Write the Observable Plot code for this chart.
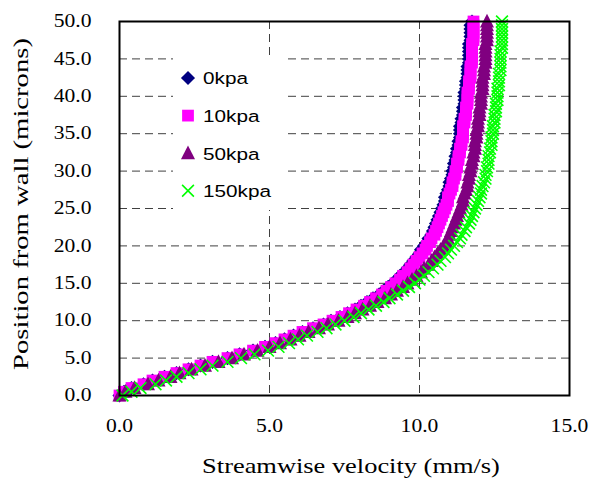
<!DOCTYPE html>
<html>
<head>
<meta charset="utf-8">
<script src="https://cdn.jsdelivr.net/npm/d3@7"></script>
<script src="https://cdn.jsdelivr.net/npm/@observablehq/plot@0.6"></script>
<style>
  html, body { margin: 0; padding: 0; background: #fff; }
  #chart { width: 592px; height: 482px; }
</style>
</head>
<body>
<div id="chart"></div>
<script>
// ---------------- data ----------------
const xTicks = [0, 5, 10, 15];
const yTicks = [0, 5, 10, 15, 20, 25, 30, 35, 40, 45, 50];
const xTitle = "Streamwise velocity (mm/s)";
const yTitle = "Position from wall (microns)";
const seriesNames = ["0kpa", "10kpa", "50kpa", "150kpa"];

// position from wall (microns)
const positionMicrons = [
  0,0.5,1,1.5,2,2.5,3,3.5,4,4.5,
  5,5.5,6,6.5,7,7.5,8,8.5,9,9.5,
  10,10.5,11,11.5,12,12.5,13,13.5,14,14.5,
  15,15.5,16,16.5,17,17.5,18,18.5,19,19.5,
  20,20.5,21,21.5,22,22.5,23,23.5,24,24.5,
  25,25.5,26,26.5,27,27.5,28,28.5,29,29.5,
  30,30.5,31,31.5,32,32.5,33,33.5,34,34.5,
  35,35.5,36,36.5,37,37.5,38,38.5,39,39.5,
  40,40.5,41,41.5,42,42.5,43,43.5,44,44.5,
  45,45.5,46,46.5,47,47.5,48,48.5,49,49.5,
  50
];

// streamwise velocity (mm/s) for each series
const velocity0kpa = [
  0.00,0.15,0.40,0.80,1.10,1.50,1.90,2.30,2.70,3.10,
  3.60,4.00,4.45,4.85,5.20,5.50,5.80,6.10,6.45,6.80,
  7.05,7.35,7.60,7.85,8.05,8.25,8.45,8.65,8.80,8.95,
  9.10,9.25,9.35,9.50,9.60,9.70,9.80,9.90,10.00,10.05,
  10.15,10.25,10.30,10.40,10.45,10.50,10.55,10.60,10.65,10.70,
  10.75,10.80,10.85,10.85,10.90,10.95,11.00,11.00,11.05,11.10,
  11.10,11.15,11.15,11.20,11.20,11.25,11.25,11.30,11.30,11.35,
  11.35,11.35,11.35,11.40,11.40,11.45,11.45,11.45,11.50,11.50,
  11.50,11.50,11.55,11.55,11.55,11.60,11.60,11.60,11.60,11.65,
  11.65,11.65,11.65,11.65,11.65,11.70,11.70,11.70,11.70,11.70,
  11.75
];
const velocity10kpa = [
  0.00,0.15,0.40,0.80,1.10,1.50,1.90,2.30,2.70,3.10,
  3.60,4.00,4.45,4.85,5.20,5.50,5.80,6.10,6.45,6.80,
  7.10,7.40,7.65,7.90,8.15,8.35,8.55,8.75,8.90,9.05,
  9.20,9.35,9.45,9.60,9.70,9.80,9.90,10.00,10.10,10.20,
  10.25,10.35,10.40,10.50,10.55,10.60,10.65,10.70,10.75,10.80,
  10.85,10.90,10.95,10.95,11.00,11.05,11.10,11.10,11.15,11.20,
  11.20,11.25,11.25,11.30,11.30,11.35,11.35,11.40,11.40,11.45,
  11.45,11.45,11.45,11.50,11.50,11.55,11.55,11.55,11.60,11.60,
  11.60,11.60,11.65,11.65,11.65,11.70,11.70,11.70,11.70,11.75,
  11.75,11.75,11.75,11.75,11.75,11.80,11.80,11.80,11.80,11.80,
  11.80
];
const velocity50kpa = [
  0.00,0.20,0.50,0.95,1.30,1.70,2.00,2.40,2.85,3.30,
  3.75,4.15,4.60,5.00,5.35,5.70,6.00,6.30,6.65,6.95,
  7.30,7.60,7.85,8.10,8.35,8.60,8.85,9.05,9.25,9.45,
  9.60,9.75,9.90,10.05,10.15,10.30,10.40,10.50,10.60,10.70,
  10.80,10.90,10.95,11.00,11.05,11.10,11.15,11.20,11.25,11.30,
  11.35,11.40,11.45,11.45,11.50,11.55,11.60,11.60,11.65,11.65,
  11.70,11.70,11.75,11.75,11.80,11.80,11.85,11.85,11.85,11.90,
  11.90,11.90,11.95,11.95,11.95,12.00,12.00,12.00,12.05,12.05,
  12.05,12.05,12.10,12.10,12.10,12.10,12.15,12.15,12.15,12.20,
  12.20,12.20,12.20,12.20,12.20,12.25,12.25,12.25,12.25,12.25,
  12.25
];
const velocity150kpa = [
  0.10,0.40,0.70,1.20,1.55,1.90,2.30,2.70,3.10,3.60,
  4.05,4.50,4.95,5.30,5.65,5.95,6.25,6.60,6.90,7.20,
  7.50,7.80,8.05,8.30,8.55,8.80,9.00,9.25,9.45,9.65,
  9.85,10.00,10.15,10.30,10.45,10.60,10.70,10.85,10.95,11.05,
  11.15,11.25,11.35,11.40,11.50,11.55,11.65,11.70,11.75,11.80,
  11.85,11.90,11.95,12.00,12.05,12.05,12.10,12.15,12.20,12.20,
  12.25,12.25,12.30,12.30,12.30,12.35,12.35,12.40,12.40,12.40,
  12.45,12.45,12.45,12.50,12.50,12.50,12.55,12.55,12.55,12.60,
  12.60,12.60,12.60,12.65,12.65,12.65,12.65,12.70,12.70,12.70,
  12.70,12.70,12.70,12.75,12.75,12.75,12.75,12.75,12.75,12.75,
  12.75
];

// ---------------- styling ----------------
const colors = ["#000080", "#FF00FF", "#800080", "#00FF00"];
const serif = "'Liberation Serif', 'Times New Roman', serif";
const sans = "'Liberation Sans', Arial, sans-serif";

function makeShape(kind) {
  return {
    draw(ctx, size) {
      const r = Math.sqrt(size / Math.PI);
      if (kind === "diamond") {
        const a = 1.1 * r;
        ctx.moveTo(0, -a); ctx.lineTo(a, 0); ctx.lineTo(0, a); ctx.lineTo(-a, 0); ctx.closePath();
      } else if (kind === "square") {
        const a = 0.92 * r;
        ctx.moveTo(-a, -a); ctx.lineTo(a, -a); ctx.lineTo(a, a); ctx.lineTo(-a, a); ctx.closePath();
      } else if (kind === "triangle") {
        ctx.moveTo(0, -1.2 * r); ctx.lineTo(1.1 * r, 0.95 * r); ctx.lineTo(-1.1 * r, 0.95 * r); ctx.closePath();
      } else {
        const a = 0.92 * r;
        ctx.moveTo(-a, -a); ctx.lineTo(a, a); ctx.moveTo(a, -a); ctx.lineTo(-a, a);
      }
    }
  };
}
const shapes = [makeShape("diamond"), makeShape("square"), makeShape("triangle"), makeShape("cross")];
const R = 6.4;

const seriesValues = [velocity0kpa, velocity10kpa, velocity50kpa, velocity150kpa];
const seriesData = seriesValues.map(vals => positionMicrons.map((y, i) => ({x: vals[i], y})));

const dotMarks = seriesData.map((data, k) => k === 3
  ? Plot.dot(data, {x: "x", y: "y", symbol: shapes[k], r: R, fill: "none", stroke: colors[k], strokeWidth: 1.6})
  : Plot.dot(data, {x: "x", y: "y", symbol: shapes[k], r: R, fill: colors[k], stroke: "none"}));

const gridStyle = {stroke: "#404040", strokeWidth: 1, strokeDasharray: "8,5", strokeOpacity: 1};

const chart = Plot.plot({
  width: 592,
  height: 482,
  marginLeft: 119,
  marginRight: 23,
  marginTop: 21,
  marginBottom: 87,
  style: {fontFamily: serif, fontSize: "18px", color: "#000", background: "#fff", overflow: "visible"},
  x: {domain: [0, 15], ticks: xTicks, tickFormat: d => d.toFixed(1), tickSize: 0, tickPadding: 24, label: null},
  y: {domain: [0, 50], ticks: yTicks, tickFormat: d => d.toFixed(1), tickSize: 0, tickPadding: 28, label: null},
  marks: [
    Plot.ruleY(yTicks.filter(d => d > 0 && d < 50), gridStyle),
    Plot.ruleX(xTicks.filter(d => d > 0 && d < 15), gridStyle),
    ...dotMarks,
    Plot.frame({stroke: "#000", strokeWidth: 2})
  ]
});
document.getElementById("chart").appendChild(chart);

// ---------------- text stretching helper (the original glyphs are wide) ----------------
function stretch(el, f, anchor) {
  const b = el.getBBox();
  const ax = anchor === "start" ? b.x : anchor === "end" ? b.x + b.width : b.x + b.width / 2;
  const t = el.getAttribute("transform") || "";
  el.setAttribute("transform", `${t} translate(${ax},0) scale(${f},1) translate(${-ax},0)`);
}

const svg = d3.select(chart.tagName.toLowerCase() === "svg" ? chart : chart.querySelector("svg"));

svg.selectAll("g[aria-label*='axis'] text").each(function() {
  let p = this.parentNode, lab = "";
  while (p && p !== svg.node()) { const a = p.getAttribute && p.getAttribute("aria-label"); if (a && a.includes("axis")) { lab = a; break; } p = p.parentNode; }
  stretch(this, 1.2, lab.startsWith("y") ? "end" : "middle");
});

// axis titles
const xt = svg.append("text")
  .attr("x", 351).attr("y", 473)
  .attr("text-anchor", "middle")
  .attr("font-family", serif).attr("font-size", 22).attr("fill", "#000")
  .text(xTitle);
stretch(xt.node(), 298 / xt.node().getComputedTextLength(), "middle");

const yt = svg.append("text")
  .attr("transform", "translate(28,204) rotate(-90)")
  .attr("text-anchor", "middle")
  .attr("font-family", serif).attr("font-size", 22).attr("fill", "#000")
  .text(yTitle);
stretch(yt.node(), 332 / yt.node().getComputedTextLength(), "middle");

// legend (inside the plot area)
const lg = svg.append("g");
lg.append("rect").attr("x", 173).attr("y", 57).attr("width", 115).attr("height", 153).attr("fill", "#fff");
seriesNames.forEach((name, k) => {
  const cy = 78 + 37.6 * k;
  const path = d3.symbol().type(shapes[k]).size(Math.PI * R * R)();
  const p = lg.append("path").attr("d", path).attr("transform", `translate(188,${cy})`);
  if (k === 3) p.attr("fill", "none").attr("stroke", colors[k]).attr("stroke-width", 1.6);
  else p.attr("fill", colors[k]);
  const t = lg.append("text")
    .attr("x", 203).attr("y", cy + 6.5)
    .attr("text-anchor", "start")
    .attr("font-family", sans).attr("font-size", 17).attr("fill", "#000")
    .text(name);
  stretch(t.node(), 1.22, "start");
});
</script>
</body>
</html>
